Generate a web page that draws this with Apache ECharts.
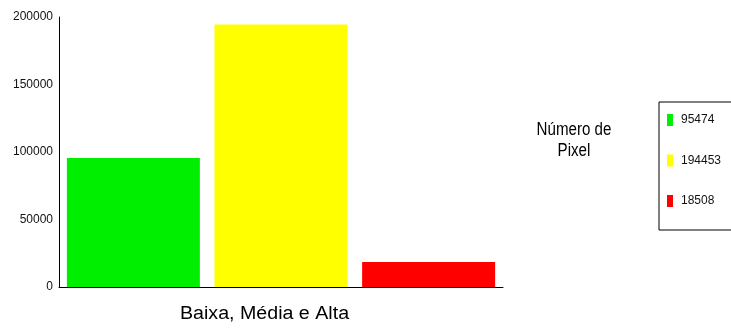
<!DOCTYPE html>
<html>
<head>
<meta charset="utf-8">
<script src="https://cdn.jsdelivr.net/npm/echarts@6/dist/echarts.min.js"></script>
<style>
  html, body { margin: 0; padding: 0; background: #fff; }
  #chart { width: 731px; height: 329px; }
</style>
</head>
<body>
<div id="chart"></div>
<script>
// niveis e contagem de pixel
var levels = ['Baixa', 'Média', 'Alta']
var pixelCounts = [95474, 194453, 18508]
var barColors = ['#00ee00', '#ffff00', '#ff0000']
var yTicks = [0, 50000, 100000, 150000, 200000]

var chart = echarts.init(document.getElementById('chart'))

var series = levels.map(function (name, i) {
  return {
    name: name,
    type: 'bar',
    data: [pixelCounts[i]],
    barWidth: 133,
    barGap: '11%',
    itemStyle: { color: barColors[i] },
    animation: false
  }
})

chart.setOption({
  backgroundColor: '#fff',
  textStyle: { fontFamily: 'Liberation Sans, Arial, sans-serif' },
  grid: { left: 59, top: 17, width: 444, height: 270 },
  xAxis: {
    type: 'category',
    data: [''],
    axisLine: { lineStyle: { color: '#000', width: 1 } },
    axisTick: { show: false },
    axisLabel: { show: false }
  },
  yAxis: {
    type: 'value',
    min: yTicks[0],
    max: yTicks[yTicks.length - 1],
    interval: 50000,
    axisLine: { show: true, lineStyle: { color: '#000', width: 1 } },
    axisTick: { show: false },
    splitLine: { show: false },
    axisLabel: {
      color: '#111',
      fontSize: 12,
      margin: 6,
      formatter: function (v) { return String(v) }
    }
  },
  legend: {
    orient: 'vertical',
    left: 662,
    top: 109,
    itemWidth: 6,
    itemHeight: 12,
    itemGap: 28.5,
    icon: 'rect',
    textStyle: { color: '#111', fontSize: 12, padding: [0, 0, 0, 3] },
    formatter: function (name) {
      return String(pixelCounts[levels.indexOf(name)])
    },
    data: levels
  },
  graphic: [
    {
      type: 'rect',
      left: 656.5,
      top: 99.5,
      shape: { width: 90, height: 128 },
      style: { fill: 'none', stroke: '#000', lineWidth: 1 }
    },
    {
      type: 'text',
      x: 574,
      y: 120,
      scaleX: 0.84,
      style: {
        text: 'Número de\nPixel',
        fill: '#000',
        align: 'center',
        font: '18px Liberation Sans, Arial, sans-serif',
        lineHeight: 21
      }
    },
    {
      type: 'text',
      x: 180,
      y: 305,
      scaleX: 1.09,
      style: {
        text: 'Baixa, Média e Alta',
        fill: '#000',
        font: '18px Liberation Sans, Arial, sans-serif'
      }
    }
  ],
  series: series
})
</script>
</body>
</html>
